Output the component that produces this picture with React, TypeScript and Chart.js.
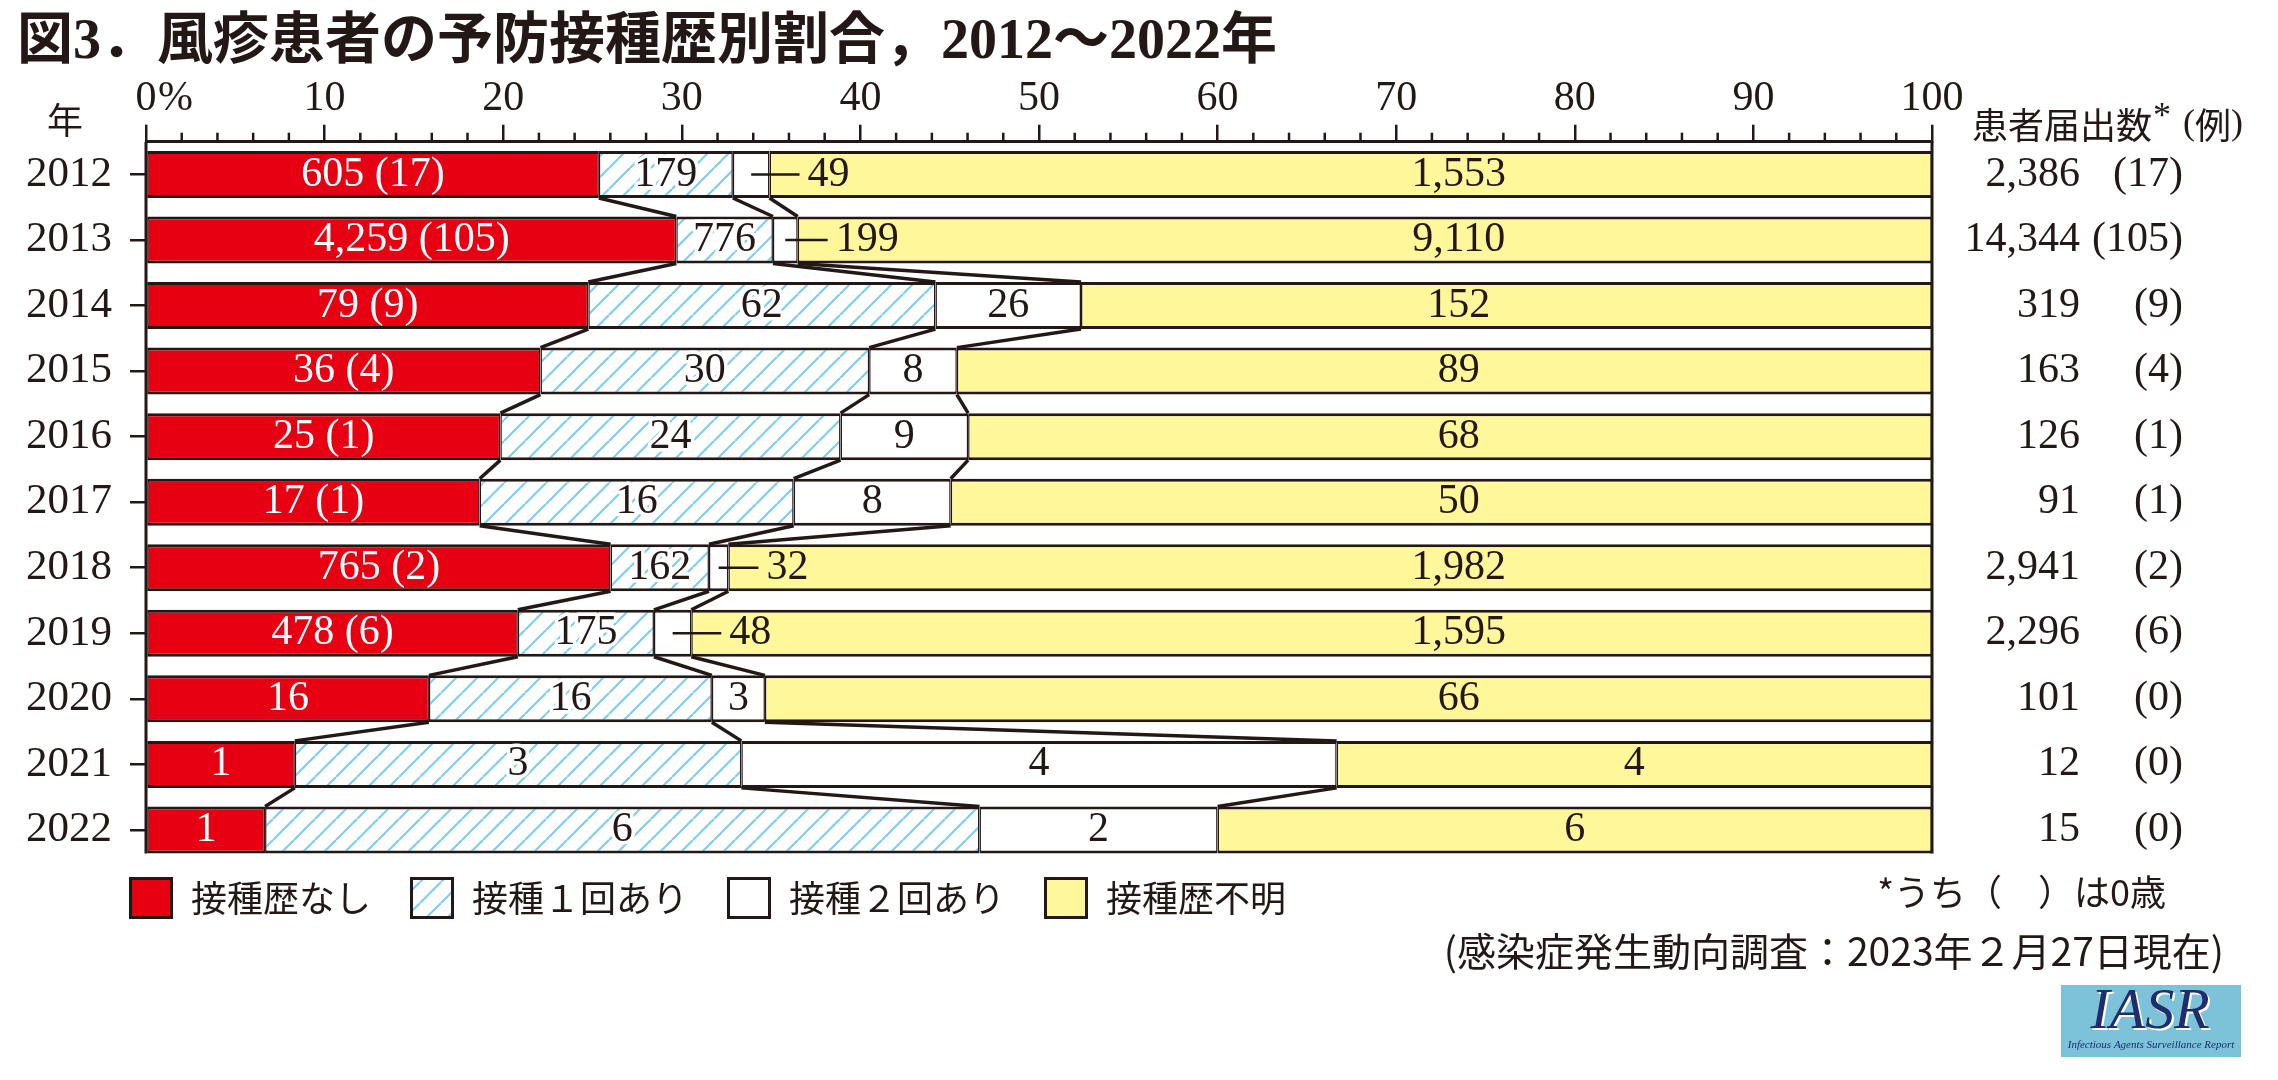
import React, { useEffect, useRef } from 'react';
import { Chart, registerables } from 'chart.js';

Chart.register(...registerables);

const FONT = "'Liberation Serif', 'Noto Sans CJK JP', serif";
const CJK = "'Noto Sans CJK JP', 'Liberation Serif', sans-serif";
const INK = '#231815';
const RED = '#e60012';
const YELLOW = '#fff799';
const HATCH = '#7ecef4';

const chartTitle = '図3．風疹患者の予防接種歴別割合，2012〜2022年';
const years = ['2012', '2013', '2014', '2015', '2016', '2017', '2018', '2019', '2020', '2021', '2022'];
const seriesLabels = ['接種歴なし', '接種１回あり', '接種２回あり', '接種歴不明'];
const noDose = [605, 4259, 79, 36, 25, 17, 765, 478, 16, 1, 1];
const noDoseInfants = [17, 105, 9, 4, 1, 1, 2, 6, 0, 0, 0];
const oneDose = [179, 776, 62, 30, 24, 16, 162, 175, 16, 3, 6];
const twoDoses = [49, 199, 26, 8, 9, 8, 32, 48, 3, 4, 2];
const unknownHistory = [1553, 9110, 152, 89, 68, 50, 1982, 1595, 66, 4, 6];
const totalCases = [2386, 14344, 319, 163, 126, 91, 2941, 2296, 101, 12, 15];
const totalInfants = [17, 105, 9, 4, 1, 1, 2, 6, 0, 0, 0];
const yearAxisLabel = '年';
const rightHeader = '患者届出数';
const noteInfants = '*うち（　）は0歳';
const noteSource = '(感染症発生動向調査：2023年２月27日現在)';
const logoText = 'IASR';
const logoSub = 'Infectious Agents Surveillance Report';

function makeHatch(): any {
  const w = 21;
  const h = 21;
  const c = document.createElement('canvas');
  c.width = w;
  c.height = h;
  const g = c.getContext('2d')!;
  g.fillStyle = '#ffffff';
  g.fillRect(0, 0, w, h);
  g.strokeStyle = HATCH;
  g.lineWidth = 2.2;
  for (const k of [-1, 0, 1]) {
    g.beginPath();
    g.moveTo(k * w, h);
    g.lineTo((k + 1) * w, 0);
    g.stroke();
  }
  return g.createPattern(c, 'repeat');
}

const fmt = (n: number) => n.toLocaleString('en-US');

export default function App() {
  const ref = useRef<HTMLCanvasElement>(null);

  useEffect(() => {
    document.body.style.margin = '0';
    const canvas = ref.current!;
    const hatch = makeHatch();
    const series = [noDose, oneDose, twoDoses, unknownHistory];
    const fills = [RED, hatch, '#ffffff', YELLOW];
    const pct = (arr: number[]) => arr.map((v, i) => (v / totalCases[i]) * 100);

    const datasets = series.map((arr, k) => ({
      label: seriesLabels[k],
      data: pct(arr),
      backgroundColor: fills[k],
      borderColor: INK,
      borderWidth: { top: 3, bottom: 3, left: 1.5, right: 1.5 },
      borderSkipped: false,
      barPercentage: 0.717,
      categoryPercentage: 1,
      stack: 'history',
    }));

    const TITLE_SIZE = 56;
    const TITLE_PAD_TOP = 10;
    const TITLE_H = TITLE_PAD_TOP + TITLE_SIZE * 1.2;
    const AXIS_Y = 141.7;
    const PLOT_BOTTOM = 862.7;
    const PAD_LEFT = 17;
    const PLOT_LEFT = 146;
    const PLOT_RIGHT = 1932;

    const decor = {
      id: 'decor',
      afterDatasetsDraw(chart: any) {
        const ctx = chart.ctx as CanvasRenderingContext2D;
        const area = chart.chartArea;
        const xs = chart.scales.x;
        const bars = [0, 1, 2, 3].map((k) => chart.getDatasetMeta(k).data as any[]);
        const n = years.length;
        ctx.save();
        ctx.strokeStyle = INK;
        ctx.lineWidth = 3.5;
        // connectors between consecutive bars
        for (let i = 0; i < n - 1; i++) {
          for (let k = 0; k < 3; k++) {
            const a = bars[k][i];
            const b = bars[k][i + 1];
            ctx.beginPath();
            ctx.moveTo(a.x, a.y + a.height / 2);
            ctx.lineTo(b.x, b.y - b.height / 2);
            ctx.stroke();
          }
        }
        // frame
        ctx.lineWidth = 3;
        const last = bars[0][n - 1];
        const bottom = last.y + last.height / 2;
        ctx.beginPath();
        ctx.moveTo(area.left, area.top);
        ctx.lineTo(area.left, bottom);
        ctx.moveTo(area.right, area.top);
        ctx.lineTo(area.right, bottom);
        ctx.stroke();
        // minor ticks
        ctx.lineWidth = 2.5;
        xs.ticks.forEach((t: any) => {
          if (Math.round(t.value) % 10 !== 0) {
            const px = xs.getPixelForValue(t.value);
            ctx.beginPath();
            ctx.moveTo(px, area.top);
            ctx.lineTo(px, area.top - 9);
            ctx.stroke();
          }
        });
        // segment labels
        ctx.textBaseline = 'middle';
        ctx.font = `42px ${FONT}`;
        for (let i = 0; i < n; i++) {
          for (let k = 0; k < 4; k++) {
            const el = bars[k][i];
            const left = Math.min(el.base, el.x);
            const right = Math.max(el.base, el.x);
            let text = fmt(series[k][i]);
            if (k === 0 && noDoseInfants[i] > 0) text += ` (${noDoseInfants[i]})`;
            const tw = ctx.measureText(text).width;
            let x = (left + right) / 2;
            let align: CanvasTextAlign = 'center';
            if (k === 2 && tw + 10 > right - left) {
              ctx.strokeStyle = INK;
              ctx.lineWidth = 2.5;
              ctx.beginPath();
              ctx.moveTo((left + right) / 2, el.y);
              ctx.lineTo(right + 30, el.y);
              ctx.stroke();
              x = right + 38;
              align = 'left';
            }
            if (k === 3) {
              const startVal = xs.getValueForPixel(left);
              if (startVal < 55) x = xs.getPixelForValue(73.5);
            }
            ctx.textAlign = align;
            if (k === 1) {
              ctx.lineWidth = 7;
              ctx.lineJoin = 'round';
              ctx.strokeStyle = '#ffffff';
              ctx.strokeText(text, x, el.y);
            }
            ctx.fillStyle = k === 0 ? '#ffffff' : INK;
            ctx.fillText(text, x, el.y);
          }
          // right-side totals
          const el0 = bars[0][i];
          ctx.fillStyle = INK;
          ctx.textAlign = 'right';
          ctx.fillText(fmt(totalCases[i]), 2080, el0.y);
          ctx.fillText(`(${totalInfants[i]})`, 2183, el0.y);
        }
        ctx.restore();
      },
      afterDraw(chart: any) {
        const ctx = chart.ctx as CanvasRenderingContext2D;
        const xs = chart.scales.x;
        const area = chart.chartArea;
        ctx.save();
        ctx.fillStyle = INK;
        ctx.textBaseline = 'middle';
        // "%" after 0
        const labelY = area.top - 17 - 1 - (42 * 1.2) / 2;
        ctx.font = `42px ${FONT}`;
        ctx.textAlign = 'left';
        ctx.fillText('%', xs.getPixelForValue(0) + 12, labelY);
        // year axis label
        ctx.font = `36px ${CJK}`;
        ctx.textAlign = 'center';
        ctx.fillText(yearAxisLabel, 65, 120);
        // right header
        ctx.textAlign = 'left';
        ctx.fillText(rightHeader, 1972, 125);
        ctx.font = `36px ${FONT}`;
        ctx.fillText('*', 2153, 118);
        ctx.fillText('(', 2183, 125);
        ctx.font = `36px ${CJK}`;
        ctx.fillText('例', 2195, 125);
        ctx.font = `36px ${FONT}`;
        ctx.fillText(')', 2231, 125);
        // legend
        const ds = chart.data.datasets;
        ctx.font = `36px ${CJK}`;
        let lx = 129;
        const ly = 877;
        ds.forEach((d: any) => {
          ctx.fillStyle = d.backgroundColor;
          ctx.fillRect(lx, ly, 44, 42);
          ctx.lineWidth = 3;
          ctx.strokeStyle = INK;
          ctx.strokeRect(lx + 1.5, ly + 1.5, 41, 39);
          ctx.fillStyle = INK;
          ctx.textAlign = 'left';
          ctx.fillText(d.label, lx + 62, ly + 21);
          lx += 62 + ctx.measureText(d.label).width + 39;
        });
        // notes
        ctx.textAlign = 'right';
        ctx.font = `36px ${CJK}`;
        ctx.fillText(noteInfants, 2166, 892);
        ctx.font = `39px ${CJK}`;
        ctx.fillText(noteSource, 2224, 951);
        // logo
        ctx.fillStyle = '#7cc2d8';
        ctx.fillRect(2061, 985, 180, 72);
        ctx.textAlign = 'center';
        ctx.font = `italic 58px 'Liberation Serif', serif`;
        ctx.fillStyle = '#ffffff';
        ctx.fillText(logoText, 2152, 1015);
        ctx.fillStyle = '#1f2d6e';
        ctx.fillText(logoText, 2150, 1013);
        ctx.font = `italic 11px 'Liberation Serif', serif`;
        ctx.fillText(logoSub, 2151, 1045);
        ctx.restore();
      },
    };

    const chart = new Chart(canvas, {
      type: 'bar',
      data: { labels: years, datasets: datasets as any },
      options: {
        indexAxis: 'y',
        responsive: false,
        animation: false,
        layout: { padding: { left: PAD_LEFT, right: 2278 - PLOT_RIGHT, top: 0, bottom: 1080 - PLOT_BOTTOM } },
        plugins: {
          legend: { display: false },
          tooltip: { enabled: false },
          title: {
            display: true,
            text: chartTitle,
            align: 'start',
            color: INK,
            font: { family: FONT, size: TITLE_SIZE, weight: 'bold', lineHeight: 1.2 },
            padding: { top: TITLE_PAD_TOP, bottom: 0 },
          },
        },
        scales: {
          x: {
            type: 'linear',
            position: 'top',
            stacked: true,
            min: 0,
            max: 100,
            afterFit: (s: any) => {
              s.height = AXIS_Y - TITLE_H;
            },
            ticks: {
              stepSize: 2,
              autoSkip: false,
              maxRotation: 0,
              minRotation: 0,
              padding: 1,
              color: INK,
              font: { family: FONT, size: 42 },
              callback: (v: any) => (Math.round(Number(v)) % 10 === 0 ? String(Math.round(Number(v))) : ''),
            },
            grid: {
              drawOnChartArea: false,
              drawTicks: true,
              tickLength: 17,
              lineWidth: 2.5,
              color: (c: any) => (c.tick && Math.round(c.tick.value) % 10 === 0 ? INK : 'rgba(0,0,0,0)'),
            },
            border: { display: true, color: INK, width: 3 },
          },
          y: {
            type: 'category',
            position: 'left',
            stacked: true,
            afterFit: (s: any) => {
              s.width = PLOT_LEFT - PAD_LEFT;
            },
            ticks: { color: INK, font: { family: FONT, size: 43 }, padding: 18 },
            grid: { drawOnChartArea: false, drawTicks: true, offset: false, tickLength: 16, lineWidth: 2.5, color: INK },
            border: { display: false },
          },
        },
      } as any,
      plugins: [decor],
    });

    let alive = true;
    (document as any).fonts?.ready?.then(() => {
      if (alive) chart.update();
    });

    return () => {
      alive = false;
      chart.destroy();
    };
  }, []);

  return (
    <div style={{ width: 2278, height: 1080, background: '#ffffff' }}>
      <canvas ref={ref} width={2278} height={1080} style={{ display: 'block', width: 2278, height: 1080 }} />
    </div>
  );
}
